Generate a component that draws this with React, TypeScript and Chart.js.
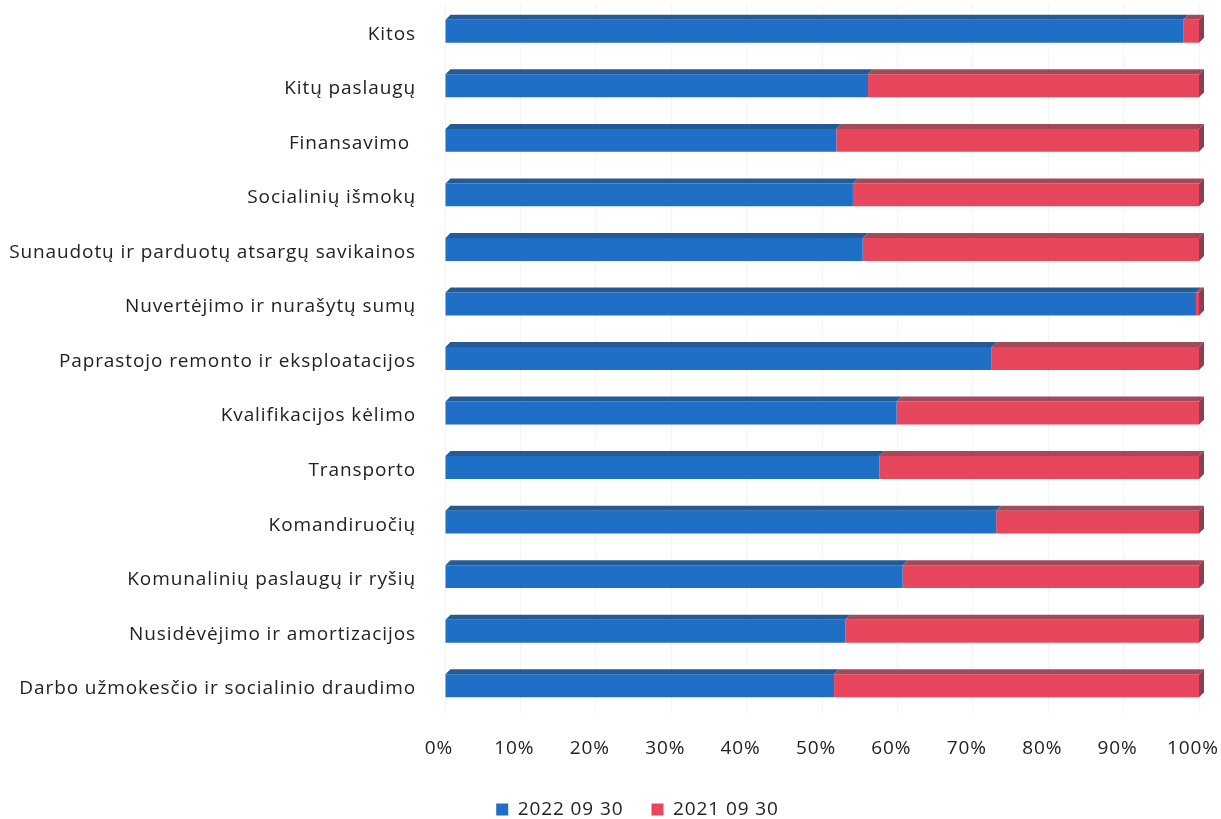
import React, { useEffect, useRef } from "react";
import { Chart, registerables } from "chart.js";

Chart.register(...registerables);

const categories = [
  "Kitos",
  "Kitų paslaugų",
  "Finansavimo ",
  "Socialinių išmokų",
  "Sunaudotų ir parduotų atsargų savikainos",
  "Nuvertėjimo ir nurašytų sumų",
  "Paprastojo remonto ir eksploatacijos",
  "Kvalifikacijos kėlimo",
  "Transporto",
  "Komandiruočių",
  "Komunalinių paslaugų ir ryšių",
  "Nusidėvėjimo ir amortizacijos",
  "Darbo užmokesčio ir socialinio draudimo",
];

const series2022 = [97.9, 56.1, 51.9, 54.1, 55.4, 99.6, 72.5, 59.9, 57.6, 73.1, 60.7, 53.1, 51.6];
const series2021 = [2.1, 43.9, 48.1, 45.9, 44.6, 0.4, 27.5, 40.1, 42.4, 26.9, 39.3, 46.9, 48.4];

const seriesLabels = ["2022 09 30", "2021 09 30"];
const xTicks = [0, 10, 20, 30, 40, 50, 60, 70, 80, 90, 100];

const FRONT = ["#1f6fc6", "#e8465c"];
const TOP = ["#245a96", "#a24a5a"];
const SIDE = ["#1d4f86", "#8a4050"];
const DEPTH = 5;

const FONT = "'Open Sans', sans-serif";
const FSIZE = 19;
const LETTER_SPACING = "0.9px";
const LEGEND_SHIFT = 27;

const spacing = {
  id: "spacing",
  beforeUpdate(chart: any) {
    const ctx: any = chart.ctx;
    if (ctx && "letterSpacing" in ctx) ctx.letterSpacing = LETTER_SPACING;
  },
  beforeDraw(chart: any) {
    const ctx: any = chart.ctx;
    if (ctx && "letterSpacing" in ctx) ctx.letterSpacing = LETTER_SPACING;
  },
  afterLayout(chart: any) {
    const lg = chart.legend;
    if (lg) {
      lg.left += LEGEND_SHIFT;
      lg.right += LEGEND_SHIFT;
    }
  },
};

const bar3d = {
  id: "bar3d",
  afterDatasetsDraw(chart: any) {
    const ctx = chart.ctx;
    const n = chart.data.datasets.length;
    ctx.save();
    for (let di = 0; di < n; di++) {
      const meta = chart.getDatasetMeta(di);
      meta.data.forEach((el: any, i: number) => {
        const { x, base, y, height } = el.getProps(["x", "base", "y", "height"], true);
        const top = y - height / 2;
        const bottom = y + height / 2;
        const d = DEPTH;
        if (Math.abs(x - base) > 0.01) {
          ctx.fillStyle = TOP[di];
          ctx.beginPath();
          ctx.moveTo(base, top);
          ctx.lineTo(base + d, top - d);
          ctx.lineTo(x + d, top - d);
          ctx.lineTo(x, top);
          ctx.closePath();
          ctx.fill();
        }
        let isLast = true;
        for (let k = di + 1; k < n; k++) {
          if (chart.data.datasets[k].data[i] > 0) isLast = false;
        }
        if (isLast) {
          ctx.fillStyle = SIDE[di];
          ctx.beginPath();
          ctx.moveTo(x, top);
          ctx.lineTo(x + d, top - d);
          ctx.lineTo(x + d, bottom - d);
          ctx.lineTo(x, bottom);
          ctx.closePath();
          ctx.fill();
        }
      });
    }
    ctx.restore();
  },
};

export default function App() {
  const ref = useRef<HTMLCanvasElement | null>(null);

  useEffect(() => {
    document.body.style.margin = "0";
    const canvas = ref.current!;
    const chart = new Chart(canvas, {
      type: "bar",
      data: {
        labels: categories,
        datasets: [
          {
            label: seriesLabels[0],
            data: series2022,
            backgroundColor: FRONT[0],
            borderWidth: 0,
            categoryPercentage: 1,
            barPercentage: 0.42,
          },
          {
            label: seriesLabels[1],
            data: series2021,
            backgroundColor: FRONT[1],
            borderWidth: 0,
            categoryPercentage: 1,
            barPercentage: 0.42,
          },
        ],
      },
      options: {
        indexAxis: "y",
        responsive: false,
        animation: false,
        layout: { padding: { left: 0, right: 0, top: 4, bottom: -10 } },
        scales: {
          x: {
            stacked: true,
            min: 0,
            max: 100,
            afterBuildTicks: (scale: any) => {
              scale.ticks = xTicks.map((v) => ({ value: v }));
            },
            afterFit: (scale: any) => {
              scale.height = 59;
              scale.paddingLeft = 0;
              scale.paddingRight = 22;
            },
            grid: { color: "rgba(0,0,0,0.045)", drawTicks: false },
            border: { display: false },
            ticks: {
              padding: 24,
              labelOffset: -6,
              color: "#222",
              font: { family: FONT, size: FSIZE },
              callback: (v: any) => v + "%",
            },
          },
          y: {
            stacked: true,
            afterFit: (scale: any) => {
              scale.width = 445;
              scale.paddingTop = 0;
              scale.paddingBottom = 0;
            },
            grid: { display: false },
            border: { display: false },
            ticks: {
              padding: 21,
              labelOffset: 3,
              color: "#222",
              font: { family: FONT, size: FSIZE },
            },
          },
        },
        plugins: {
          legend: {
            position: "bottom",
            labels: {
              boxWidth: 12,
              boxHeight: 12,
              padding: 28,
              color: "#222",
              font: { family: FONT, size: FSIZE },
            },
          },
          tooltip: { enabled: false },
        },
      },
      plugins: [spacing, bar3d],
    });
    return () => chart.destroy();
  }, []);

  return (
    <div style={{ width: 1221, height: 819 }}>
      <canvas ref={ref} width={1221} height={819} />
    </div>
  );
}
